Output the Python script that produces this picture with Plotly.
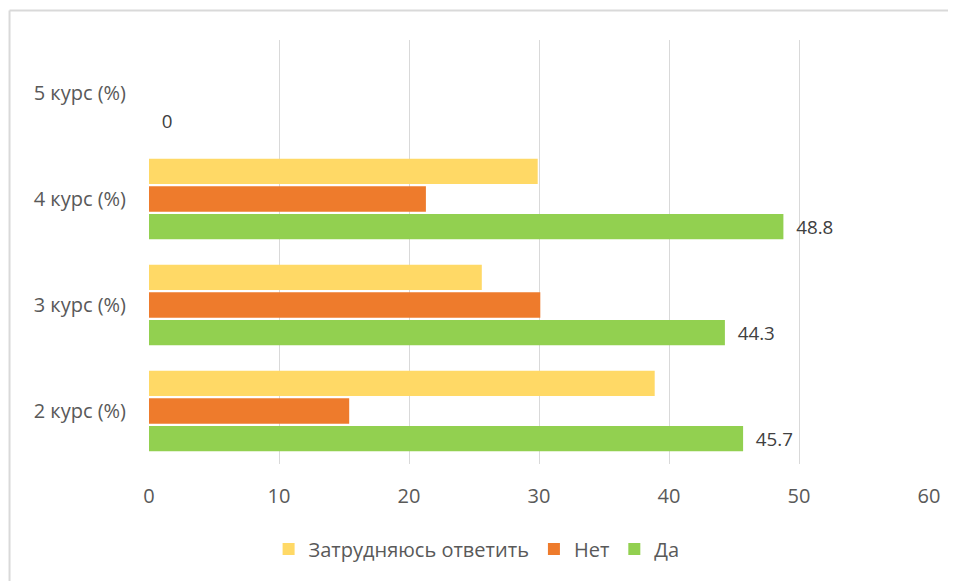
import plotly.graph_objects as go

categories = ["2 курс (%)", "3 курс (%)", "4 курс (%)", "5 курс (%)"]
da = [45.7, 44.3, 48.8, 0]
net = [15.4, 30.1, 21.3, 0]
zatr = [38.9, 25.6, 29.9, 0]
x_ticks = [0, 10, 20, 30, 40, 50, 60]

font = "Open Sans"
txt = "#595959"
fs = 20

fig = go.Figure()
fig.add_trace(go.Bar(y=categories, x=da, name="Да", orientation="h",
                     marker=dict(color="#92D050", line=dict(width=0)),
                     text=[f"  {v:g}" for v in da], textposition="outside",
                     textfont=dict(size=fs, color="#404040", family=font),
                     cliponaxis=False))
fig.add_trace(go.Bar(y=categories, x=net, name="Нет", orientation="h",
                     marker=dict(color="#EE7B2C", line=dict(width=0))))
fig.add_trace(go.Bar(y=categories, x=zatr, name="Затрудняюсь ответить", orientation="h",
                     marker=dict(color="#FFD966", line=dict(width=0))))

fig.update_layout(
    width=948, height=573,
    paper_bgcolor="white", plot_bgcolor="white",
    margin=dict(l=141, r=27, t=32, b=117),
    barmode="group", bargap=0.22, bargroupgap=0.08,
    font=dict(family=font, size=fs, color=txt),
    xaxis=dict(range=[0, 60], tickvals=x_ticks, showgrid=True, gridcolor="#D9D9D9",
               gridwidth=1, zeroline=False, showline=False, ticks="",
               ticklabelstandoff=18,
               tickfont=dict(size=fs, color=txt)),
    yaxis=dict(showgrid=False, zeroline=False, showline=False, ticks="",
               ticklabelstandoff=22, tickfont=dict(size=fs, color=txt)),
    legend=dict(orientation="h", x=0.42, xanchor="center", y=-0.2005, yanchor="middle",
                traceorder="reversed", font=dict(size=fs, color=txt),
                itemwidth=30, tracegroupgap=0),
    showlegend=True,
)
# chart-area border (top and left edges visible in the reference)
fig.add_shape(type="line", xref="paper", yref="paper",
              x0=-0.1788, x1=1.2, y0=1.0696, y1=1.0696,
              line=dict(color="#D9D9D9", width=2))
fig.add_shape(type="line", xref="paper", yref="paper",
              x0=-0.1788, x1=-0.1788, y0=1.0696, y1=-0.5,
              line=dict(color="#D9D9D9", width=2))
fig.write_html("out.html")
